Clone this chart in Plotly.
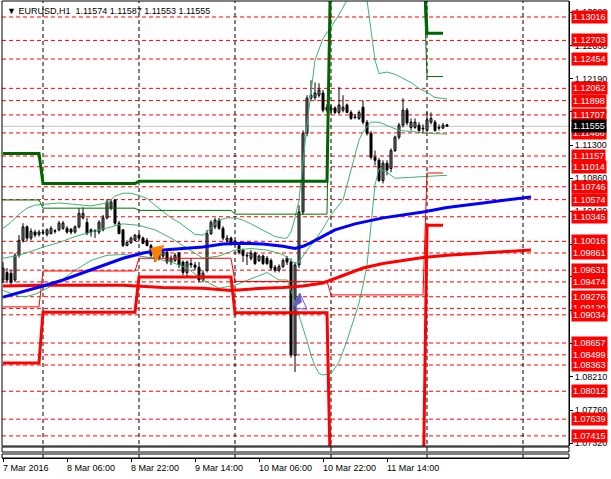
import plotly.graph_objects as go

# ---------------- data ----------------
bar_index = list(range(-10, 102))  # hours since 8 Mar 2016 00:00

opens = [1.0950, 1.0960, 1.0959, 1.0950, 1.0983, 1.1003, 1.1021, 1.1006, 1.1014, 1.1011,
         1.1014, 1.1011, 1.1012, 1.1015, 1.1017, 1.1019, 1.1019, 1.1018, 1.1014, 1.1021,
         1.1033, 1.1027, 1.1017, 1.1015, 1.1014, 1.1017, 1.1033, 1.1046, 1.1057, 1.1026,
         1.1017, 1.0996, 1.1000, 1.1003, 1.1010, 1.1006, 1.1003, 1.0996, 1.0990, 1.0979,
         1.0982, 1.0987, 1.0974, 1.0976, 1.0986, 1.0974, 1.0960, 1.0972, 1.0970, 1.0967,
         1.0950, 1.0963, 1.1012, 1.1021, 1.1030, 1.1019, 1.1003, 1.1006, 1.0999, 1.0996,
         1.0990, 1.0983, 1.0979, 1.0986, 1.0976, 1.0982, 1.0979, 1.0976, 1.0967, 1.0963,
         1.0968, 1.0979, 1.0974, 1.0849, 1.0970, 1.1041, 1.1146, 1.1193, 1.1194, 1.1197,
         1.1200, 1.1181, 1.1177, 1.1180, 1.1174, 1.1177, 1.1184, 1.1174, 1.1168, 1.1166,
         1.1181, 1.1161, 1.1146, 1.1114, 1.1110, 1.1083, 1.1106, 1.1099, 1.1123, 1.1141,
         1.1157, 1.1177, 1.1154, 1.1154, 1.1157, 1.1153, 1.1150, 1.1161, 1.1161, 1.1154,
         1.1153, 1.11574]
highs = [1.0974, 1.0966, 1.0963, 1.0986, 1.1010, 1.1026, 1.1023, 1.1019, 1.1017, 1.1017,
         1.1018, 1.1019, 1.1022, 1.1018, 1.1029, 1.1029, 1.1022, 1.1019, 1.1023, 1.1046,
         1.1047, 1.1033, 1.1019, 1.1018, 1.1030, 1.1037, 1.1058, 1.1058, 1.1058, 1.1029,
         1.1018, 1.1003, 1.1008, 1.1011, 1.1012, 1.1008, 1.1006, 1.0998, 1.0992, 1.0988,
         1.0990, 1.0990, 1.0983, 1.0986, 1.0987, 1.0976, 1.0976, 1.0979, 1.0974, 1.0974,
         1.0963, 1.1017, 1.1030, 1.1033, 1.1033, 1.1022, 1.1010, 1.1008, 1.1003, 1.0999,
         1.0992, 1.0987, 1.0990, 1.0988, 1.0984, 1.0984, 1.0982, 1.0979, 1.0970, 1.0971,
         1.0979, 1.0982, 1.0979, 1.0974, 1.1050, 1.1150, 1.1197, 1.1217, 1.1214, 1.1213,
         1.1204, 1.1185, 1.1184, 1.1182, 1.1208, 1.1197, 1.1186, 1.1177, 1.1172, 1.1177,
         1.1190, 1.1164, 1.1149, 1.1123, 1.1113, 1.1110, 1.1110, 1.1126, 1.1143, 1.1160,
         1.1193, 1.1180, 1.1166, 1.1166, 1.1161, 1.1158, 1.1174, 1.1174, 1.1164, 1.1158,
         1.1160, 1.11587]
lows = [1.0946, 1.0946, 1.0943, 1.0947, 1.0980, 1.1000, 1.1002, 1.1003, 1.1007, 1.1008,
        1.1010, 1.1008, 1.1011, 1.1012, 1.1015, 1.1017, 1.1012, 1.1011, 1.1012, 1.1019,
        1.1031, 1.1010, 1.1008, 1.1006, 1.1011, 1.1015, 1.1031, 1.1043, 1.1023, 1.1011,
        1.0994, 1.0995, 1.0998, 1.1002, 1.1004, 1.0998, 1.0995, 1.0980, 1.0974, 1.0976,
        1.0979, 1.0971, 1.0970, 1.0974, 1.0966, 1.0956, 1.0955, 1.0966, 1.0963, 1.0947,
        1.0947, 1.0960, 1.1010, 1.1018, 1.1017, 1.1003, 1.1000, 1.0996, 1.0996, 1.0984,
        1.0974, 1.0970, 1.0976, 1.0970, 1.0974, 1.0970, 1.0970, 1.0963, 1.0960, 1.0960,
        1.0966, 1.0970, 1.0846, 1.0827, 1.0966, 1.1037, 1.1142, 1.1190, 1.1190, 1.1194,
        1.1174, 1.1174, 1.1173, 1.1172, 1.1172, 1.1174, 1.1173, 1.1164, 1.1165, 1.1164,
        1.1158, 1.1143, 1.1111, 1.1103, 1.1081, 1.1079, 1.1090, 1.1094, 1.1121, 1.1138,
        1.1154, 1.1157, 1.1150, 1.1152, 1.1146, 1.1146, 1.1148, 1.1158, 1.1148, 1.1150,
        1.1152, 1.11553]
closes = [1.0966, 1.0950, 1.0947, 1.0983, 1.1003, 1.1021, 1.1006, 1.1015, 1.1010, 1.1014,
          1.1013, 1.1017, 1.1019, 1.1016, 1.1026, 1.1026, 1.1014, 1.1014, 1.1021, 1.1039,
          1.1039, 1.1012, 1.1014, 1.1016, 1.1027, 1.1033, 1.1054, 1.1054, 1.1026, 1.1012,
          1.0996, 1.1000, 1.1006, 1.1010, 1.1006, 1.0999, 1.0996, 1.0983, 1.0979, 1.0986,
          1.0987, 1.0974, 1.0979, 1.0983, 1.0970, 1.0960, 1.0974, 1.0970, 1.0967, 1.0950,
          1.0959, 1.1012, 1.1027, 1.1030, 1.1019, 1.1006, 1.1006, 1.0999, 1.1002, 1.0987,
          1.0983, 1.0982, 1.0986, 1.0972, 1.0982, 1.0972, 1.0972, 1.0966, 1.0963, 1.0968,
          1.0976, 1.0974, 1.0850, 1.0970, 1.1041, 1.1146, 1.1193, 1.1197, 1.1200, 1.1204,
          1.1177, 1.1177, 1.1180, 1.1174, 1.1184, 1.1181, 1.1174, 1.1166, 1.1167, 1.1174,
          1.1161, 1.1146, 1.1114, 1.1110, 1.1083, 1.1106, 1.1097, 1.1123, 1.1141, 1.1157,
          1.1177, 1.1160, 1.1161, 1.1161, 1.1150, 1.1152, 1.1164, 1.1166, 1.1150, 1.1153,
          1.1157, 1.11555]

# Bollinger bands (sampled read-offs)
bb_up_x = [-10, -8, -6, -4, -2, 0, 4, 8, 12, 16, 18, 20, 22, 24, 26, 28, 30, 32, 34, 36, 38, 40,
           42, 44, 46, 48, 50, 52, 54, 56, 58, 60, 61, 62, 63, 64, 66, 68, 70, 72, 74, 76, 78,
           80, 81, 82, 83, 84, 86, 88, 90, 92, 94, 96, 98, 101]
bb_up_y = [1.1019, 1.1027, 1.1038, 1.1046, 1.1050, 1.1051, 1.1053, 1.1051, 1.1049, 1.1053,
           1.1062, 1.1066, 1.1066, 1.1063, 1.1059, 1.1050, 1.1041, 1.1033, 1.1027, 1.1019,
           1.1011, 1.1010, 1.1019, 1.1030, 1.1033, 1.1033, 1.1030, 1.1025, 1.1019, 1.1014,
           1.1008, 1.1006, 1.1006, 1.1014, 1.1033, 1.1057, 1.1157, 1.1244, 1.1273, 1.1288,
           1.1305, 1.1324, 1.1344, 1.1337, 1.1324, 1.1284, 1.1244, 1.1226, 1.1228, 1.1225,
           1.1220, 1.1214, 1.1206, 1.1201, 1.1194, 1.1192]
bb_mid_x = [-10, -6, -2, 0, 4, 8, 12, 16, 20, 24, 28, 32, 36, 40, 44, 48, 52, 56, 60, 62, 63,
            64, 65, 66, 68, 70, 72, 74, 75, 77, 79, 80, 82, 84, 86, 89, 93, 96, 101]
bb_mid_y = [1.0979, 1.0983, 1.0990, 1.0994, 1.1000, 1.1008, 1.1014, 1.1019, 1.1025, 1.1023,
            1.1017, 1.1006, 1.0992, 1.0979, 1.0982, 1.0990, 1.0992, 1.0990, 1.0984, 1.0976,
            1.0972, 1.0974, 1.0982, 1.0990, 1.1003, 1.1019, 1.1037, 1.1050, 1.1057, 1.1097,
            1.1137, 1.1148, 1.1161, 1.1161, 1.1157, 1.1150, 1.1148, 1.1146, 1.1145]
bb_low_x = [-10, -8, -6, -4, -2, 0, 4, 8, 12, 16, 20, 24, 28, 32, 36, 40, 44, 48, 52, 56, 59,
            61, 62, 64, 66, 67, 68, 69, 70, 72, 74, 76, 77, 79, 80, 81, 82, 83, 84, 86, 88, 92,
            96, 101]
bb_low_y = [1.0936, 1.0932, 1.0928, 1.0928, 1.0931, 1.0936, 1.0947, 1.0963, 1.0976, 1.0983,
            1.0984, 1.0982, 1.0979, 1.0974, 1.0966, 1.0950, 1.0939, 1.0943, 1.0952, 1.0960,
            1.0950, 1.0950, 1.0936, 1.0903, 1.0869, 1.0849, 1.0835, 1.0825, 1.0823, 1.0825,
            1.0840, 1.0869, 1.0885, 1.0919, 1.0943, 1.0970, 1.1023, 1.1077, 1.1099, 1.1094,
            1.1086, 1.1087, 1.1089, 1.1090]

# moving averages (shifted forward past the last bar)
ma_blue_x = [-10, -5, 0, 5, 10, 15, 20, 25, 30, 35, 40, 45, 50, 55, 60, 63, 65, 67, 70, 73,
             78, 85, 95, 101, 110, 122]
ma_blue_y = [1.0927, 1.0934, 1.0942, 1.0950, 1.0960, 1.0970, 1.0979, 1.0986, 1.0990, 1.0992,
             1.0994, 1.0998, 1.0999, 1.0998, 1.0995, 1.0992, 1.0995, 1.1000, 1.1008, 1.1017,
             1.1025, 1.1033, 1.1041, 1.1047, 1.1053, 1.1061]
ma_red_x = [-10, 0, 20, 30, 40, 47, 55, 60, 65, 70, 75, 80, 85, 90, 95, 101, 110, 122]
ma_red_y = [1.0942, 1.0943, 1.0943, 1.0940, 1.0939, 1.0936, 1.0939, 1.0940, 1.0942, 1.0946,
            1.0956, 1.0966, 1.0972, 1.0976, 1.0980, 1.0983, 1.0986, 1.0990]

# daily levels
day_start = [-10, 0, 24, 48, 72, 96]
day_end = [-1, 23, 47, 71, 95, 100]
lvl_green_thick = [1.1119, 1.1079, 1.1082, 1.1082, 1.1400, 1.1280]
lvl_green_thin = [1.1057, 1.1046, 1.1043, 1.1038, 1.1380, 1.1222]
lvl_red_thin = [1.0914, 1.0962, 1.0979, 1.0948, 1.0930, 1.1093]
lvl_red_thick = [1.0839, 1.0907, 1.0954, 1.0906, 1.0650, 1.1023]

# horizontal line objects
hline_prices = [1.13016, 1.12703, 1.12454, 1.12062, 1.11898, 1.11707, 1.11466, 1.11157,
                1.11014, 1.10746, 1.10574, 1.10345, 1.10016, 1.09861, 1.09631, 1.09474,
                1.09276, 1.09120, 1.09034, 1.08657, 1.08499, 1.08363, 1.08012, 1.07639,
                1.07415]
bid_price = 1.11555

# price scale
ytick_vals = [1.07320, 1.07760, 1.08210, 1.08650, 1.09090, 1.09540, 1.09980, 1.10420,
              1.10860, 1.11300, 1.11750, 1.12190, 1.12630, 1.13080]

# time scale
xtick_idx = [-10, 6, 22, 38, 54, 70, 86]
xtick_text = ["7 Mar 2016", "8 Mar 06:00", "8 Mar 22:00", "9 Mar 14:00",
              "10 Mar 06:00", "10 Mar 22:00", "11 Mar 14:00"]
separator_idx = [0, 24, 48, 72, 96, 120]

# objects
orange_tri_x = [26.8, 30.2, 28.2]
orange_tri_y = [1.0992, 1.0996, 1.0974]
purple_fill_x = [62.3, 64.2, 64.6]
purple_fill_y = [1.0912, 1.0932, 1.0920]
purple_out_x = [62.3, 64.2, 66.0, 62.3]
purple_out_y = [1.0912, 1.0932, 1.0911, 1.0912]

title_text = "\u25BC EURUSD,H1\u00a0 1.11574 1.11587 1.11553 1.11555"

# ---------------- figure ----------------
FONT = "Liberation Sans"
fig = go.Figure()


def steps(vals):
    xs, ys = [], []
    for s, e, v in zip(day_start, day_end, vals):
        xs += [s, e]
        ys += [v, v]
    return xs, ys


# candles: wicks + bodies
wick_x, wick_y = [], []
for i, h, l in zip(bar_index, highs, lows):
    wick_x += [i, i, None]
    wick_y += [l, h, None]
fig.add_trace(go.Scatter(x=wick_x, y=wick_y, mode="lines",
                         line=dict(color="black", width=1), hoverinfo="skip"))
body_base = [min(o, c) for o, c in zip(opens, closes)]
body_h = [max(abs(c - o), 0.00002) for o, c in zip(opens, closes)]
body_col = ["white" if c >= o else "black" for o, c in zip(opens, closes)]
fig.add_trace(go.Bar(x=bar_index, base=body_base, y=body_h, width=0.5,
                     marker=dict(color=body_col, line=dict(color="black", width=1)),
                     hoverinfo="skip"))

bb_col = "#3CB371"
for xs, ys in [(bb_up_x, bb_up_y), (bb_mid_x, bb_mid_y), (bb_low_x, bb_low_y)]:
    fig.add_trace(go.Scatter(x=xs, y=ys, mode="lines",
                             line=dict(color=bb_col, width=1), hoverinfo="skip"))

for vals, col, w in [(lvl_green_thin, "#007000", 1), (lvl_green_thick, "#006400", 3),
                     (lvl_red_thin, "#FF0000", 1), (lvl_red_thick, "#FF0000", 3)]:
    xs, ys = steps(vals)
    fig.add_trace(go.Scatter(x=xs, y=ys, mode="lines",
                             line=dict(color=col, width=w), hoverinfo="skip"))

fig.add_trace(go.Scatter(x=ma_red_x, y=ma_red_y, mode="lines",
                         line=dict(color="#FF0000", width=3), hoverinfo="skip"))
fig.add_trace(go.Scatter(x=ma_blue_x, y=ma_blue_y, mode="lines",
                         line=dict(color="#0000FF", width=3), hoverinfo="skip"))

fig.add_trace(go.Scatter(x=orange_tri_x, y=orange_tri_y, mode="lines", fill="toself",
                         fillcolor="#FF7F00", line=dict(color="#FF7F00", width=1),
                         hoverinfo="skip"))
fig.add_trace(go.Scatter(x=purple_fill_x, y=purple_fill_y, mode="lines", fill="toself",
                         fillcolor="#6A5ACD", line=dict(color="#6A5ACD", width=1),
                         hoverinfo="skip"))
fig.add_trace(go.Scatter(x=purple_out_x, y=purple_out_y, mode="lines",
                         line=dict(color="#6A5ACD", width=1), hoverinfo="skip"))

shapes = []
# plot area spans y from 1 to 458 px (height 457)
main_bottom = 12 / 457.0
sub1 = (6 / 457.0, 11 / 457.0)
sub2 = (0.0, 4 / 457.0)

for p in hline_prices:
    shapes.append(dict(type="line", xref="paper", x0=0, x1=1, yref="y", y0=p, y1=p,
                       line=dict(color="#FF0000", width=1, dash="4px,3px"), layer="below"))
shapes.append(dict(type="line", xref="paper", x0=0, x1=1, yref="y", y0=bid_price, y1=bid_price,
                   line=dict(color="#C0C0C0", width=1), layer="below"))
for s in separator_idx:
    shapes.append(dict(type="line", xref="x", x0=s, x1=s, yref="paper", y0=0, y1=1,
                       line=dict(color="black", width=1, dash="4px,3px"), layer="below"))
shapes.append(dict(type="rect", xref="paper", yref="paper", x0=0, x1=1, y0=main_bottom, y1=1,
                   line=dict(color="black", width=1), fillcolor="rgba(0,0,0,0)"))
for (a, b) in [sub1, sub2]:
    shapes.append(dict(type="rect", xref="paper", yref="paper", x0=0, x1=1, y0=a, y1=b,
                       line=dict(color="black", width=1), fillcolor="rgba(0,0,0,0)"))

annotations = []
lab_x = 1 + 2 / 567.0
for p in hline_prices:
    annotations.append(dict(xref="paper", x=lab_x, xanchor="left", yref="y", y=p,
                            yanchor="middle", text=f"{p:.5f}", showarrow=False,
                            bgcolor="#FF0000", borderpad=1,
                            font=dict(family=FONT, size=9, color="white")))
annotations.append(dict(xref="paper", x=lab_x, xanchor="left", yref="y", y=bid_price,
                        yanchor="middle", text=f"{bid_price:.5f}", showarrow=False,
                        bgcolor="black", borderpad=1,
                        font=dict(family=FONT, size=9, color="white")))
for idx, t in zip(xtick_idx, xtick_text):
    annotations.append(dict(xref="x", x=idx, xanchor="left", xshift=-2, yref="paper",
                            y=-10 / 457.0, yanchor="middle", text=t, showarrow=False,
                            font=dict(family=FONT, size=9, color="black")))
annotations.append(dict(xref="paper", x=3 / 567.0, xanchor="left", yref="paper",
                        y=1 - 10 / 457.0, yanchor="middle", text=title_text,
                        showarrow=False, font=dict(family=FONT, size=9, color="black")))

fig.update_layout(
    width=611, height=479,
    margin=dict(l=2, r=42, t=1, b=21, autoexpand=False),
    paper_bgcolor="white", plot_bgcolor="white",
    showlegend=False, shapes=shapes, annotations=annotations,
    xaxis=dict(range=[-10.25, 131.5], showgrid=False, zeroline=False,
               showline=True, linecolor="black", linewidth=1,
               anchor="free", position=0,
               tickvals=xtick_idx, ticktext=[""] * len(xtick_idx),
               ticks="outside", ticklen=3, tickcolor="black",
               showticklabels=False, fixedrange=True),
    yaxis=dict(domain=[main_bottom, 1], range=[1.07280, 1.13230], side="right",
               showgrid=False, zeroline=False, showline=True, linecolor="black",
               ticks="outside", ticklen=3, tickcolor="black",
               tickvals=ytick_vals, ticktext=[f"{v:.5f}" for v in ytick_vals],
               tickfont=dict(family=FONT, size=9, color="black"), fixedrange=True),
)

fig.write_html("out.html",
               config={"displayModeBar": False, "staticPlot": True},
               post_script="document.body.style.margin='0px';"
                           "document.body.style.overflow='hidden';")
